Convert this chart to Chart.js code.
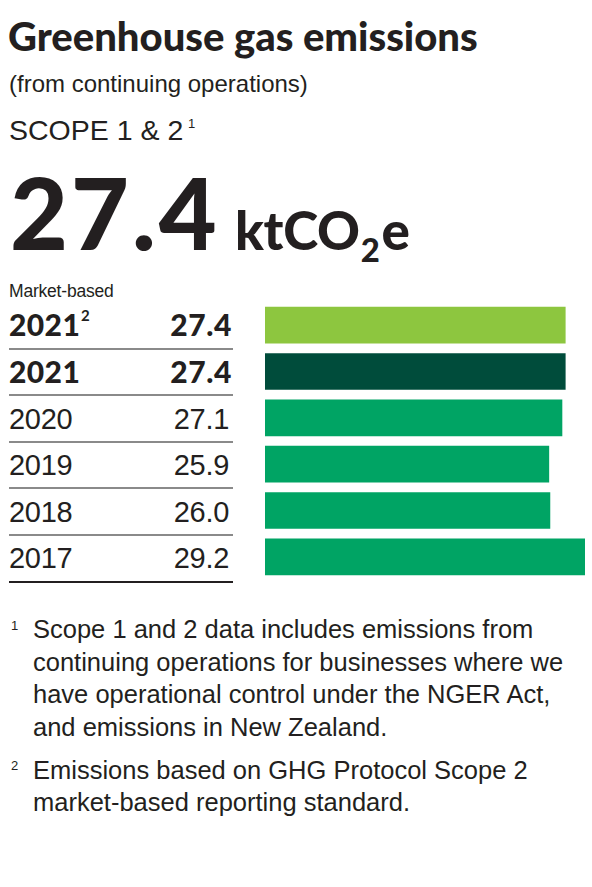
<!DOCTYPE html>
<html>
<head>
<meta charset="utf-8">
<script src="https://cdn.jsdelivr.net/npm/chart.js@4.4.1/dist/chart.umd.min.js"></script>
<style>
  html, body { margin: 0; padding: 0; background: #ffffff; }
  #page { position: relative; width: 592px; height: 887px; overflow: hidden; color: #231f20;
          font-family: "Liberation Sans", Arial, sans-serif; background: #ffffff; }
  .t { position: absolute; white-space: nowrap; }
  .rule { position: absolute; height: 2px; }
  #barWrap { position: absolute; left: 265px; top: 302px; width: 320px; height: 278px; }
</style>
</head>
<body>
<div id="page">
  <div id="barWrap"><canvas id="bars" width="320" height="278"></canvas></div>
</div>
<script>
// ---------------- data ----------------
const yearLabels = ['2021', '2021', '2020', '2019', '2018', '2017'];
const yearNotes  = ['2', '', '', '', '', ''];
const emissions  = [27.4, 27.4, 27.1, 25.9, 26.0, 29.2];
const boldRows   = [true, true, false, false, false, false];
const barColors  = ['#8dc63f', '#004c3b', '#00a464', '#00a464', '#00a464', '#00a464'];
const headline   = '27.4';
const titleText  = 'Greenhouse gas emissions';
const subtitleText = '(from continuing operations)';
const scopeText  = 'SCOPE 1 & 2';
const basisText  = 'Market-based';
const footnote1  = ['Scope 1 and 2 data includes emissions from',
                    'continuing operations for businesses where we',
                    'have operational control under the NGER Act,',
                    'and emissions in New Zealand.'];
const footnote2  = ['Emissions based on GHG Protocol Scope 2',
                    'market-based reporting standard.'];

// ---------------- text helpers ----------------
const page = document.getElementById('page');
const K = { lib: 0.8465, lato: 0.887 };
function txt(html, x, baseline, size, fam, opts) {
  opts = opts || {};
  const d = document.createElement('div');
  d.className = 't';
  d.innerHTML = html;
  d.style.fontSize = size + 'px';
  d.style.lineHeight = size + 'px';
  if (fam === 'lato') { d.style.fontFamily = 'Lato, sans-serif'; d.style.fontWeight = opts.weight || 900; }
  if (opts.ls !== undefined) d.style.letterSpacing = opts.ls + 'px';
  if (opts.color) d.style.color = opts.color;
  d.style.top = (baseline - size * K[fam]) + 'px';
  if (opts.right) d.style.right = (592 - x) + 'px'; else d.style.left = x + 'px';
  page.appendChild(d);
  return d;
}

txt(titleText, 8, 51, 40, 'lato', { ls: 0 });
txt(subtitleText, 9, 92, 24, 'lib', { ls: 0 });
txt(scopeText, 9, 140, 28.5, 'lib', { ls: 0 });
txt('1', 188, 128, 13, 'lib');
txt(headline, 10, 250, 100, 'lato', { ls: 3 });
txt('ktCO<span style="font-size:62%;position:relative;top:0.38em;margin:0 2px 0 1px">2</span>e', 235, 250, 53, 'lato', { ls: -0.3 });
txt(basisText, 9, 298, 17.5, 'lib', { ls: -0.2 });

// table rows
const rowBase0 = 336, rowPitch = 46.6;
yearLabels.forEach((y, i) => {
  const b = rowBase0 + i * rowPitch;
  if (boldRows[i]) {
    txt(y, 9, b, 30, 'lato', { ls: 0.4 });
    if (yearNotes[i]) txt(yearNotes[i], 81, b - 15, 15, 'lato', { weight: 700 });
    txt(emissions[i].toFixed(1), 232, b, 30, 'lato', { right: true, ls: 0.6 });
  } else {
    txt(y, 9, b, 29, 'lib', { ls: -0.3 });
    txt(emissions[i].toFixed(1), 229, b, 29, 'lib', { right: true, ls: -0.3 });
  }
  const r = document.createElement('div');
  r.className = 'rule';
  r.style.left = '9px';
  r.style.width = '224px';
  r.style.top = (b + 11.5) + 'px';
  r.style.background = i === yearLabels.length - 1 ? '#231f20' : '#8a8a8a';
  page.appendChild(r);
});

// footnotes
const fnPitch = 32.4;
txt('1', 11, 630, 13, 'lib');
footnote1.forEach((l, i) => txt(l, 33, 639 + i * fnPitch, 25.5, 'lib', { ls: 0 }));
const fn2Base = 639 + 4 * fnPitch + 10.5;
txt('2', 11, fn2Base - 9, 13, 'lib');
footnote2.forEach((l, i) => txt(l, 33, fn2Base + i * fnPitch, 25.5, 'lib', { ls: 0 }));

// ---------------- chart ----------------
new Chart(document.getElementById('bars'), {
  type: 'bar',
  data: {
    labels: yearLabels.map((y, i) => y + (yearNotes[i] ? '^' + yearNotes[i] : '')),
    datasets: [{
      data: emissions,
      backgroundColor: barColors,
      borderWidth: 0,
      barThickness: 36
    }]
  },
  options: {
    indexAxis: 'y',
    responsive: false,
    animation: false,
    devicePixelRatio: 1,
    layout: { padding: 0 },
    plugins: { legend: { display: false }, tooltip: { enabled: false }, title: { display: false } },
    scales: {
      x: { display: false, min: 0, max: Math.max(...emissions) },
      y: { display: false }
    }
  }
});
</script>
</body>
</html>
